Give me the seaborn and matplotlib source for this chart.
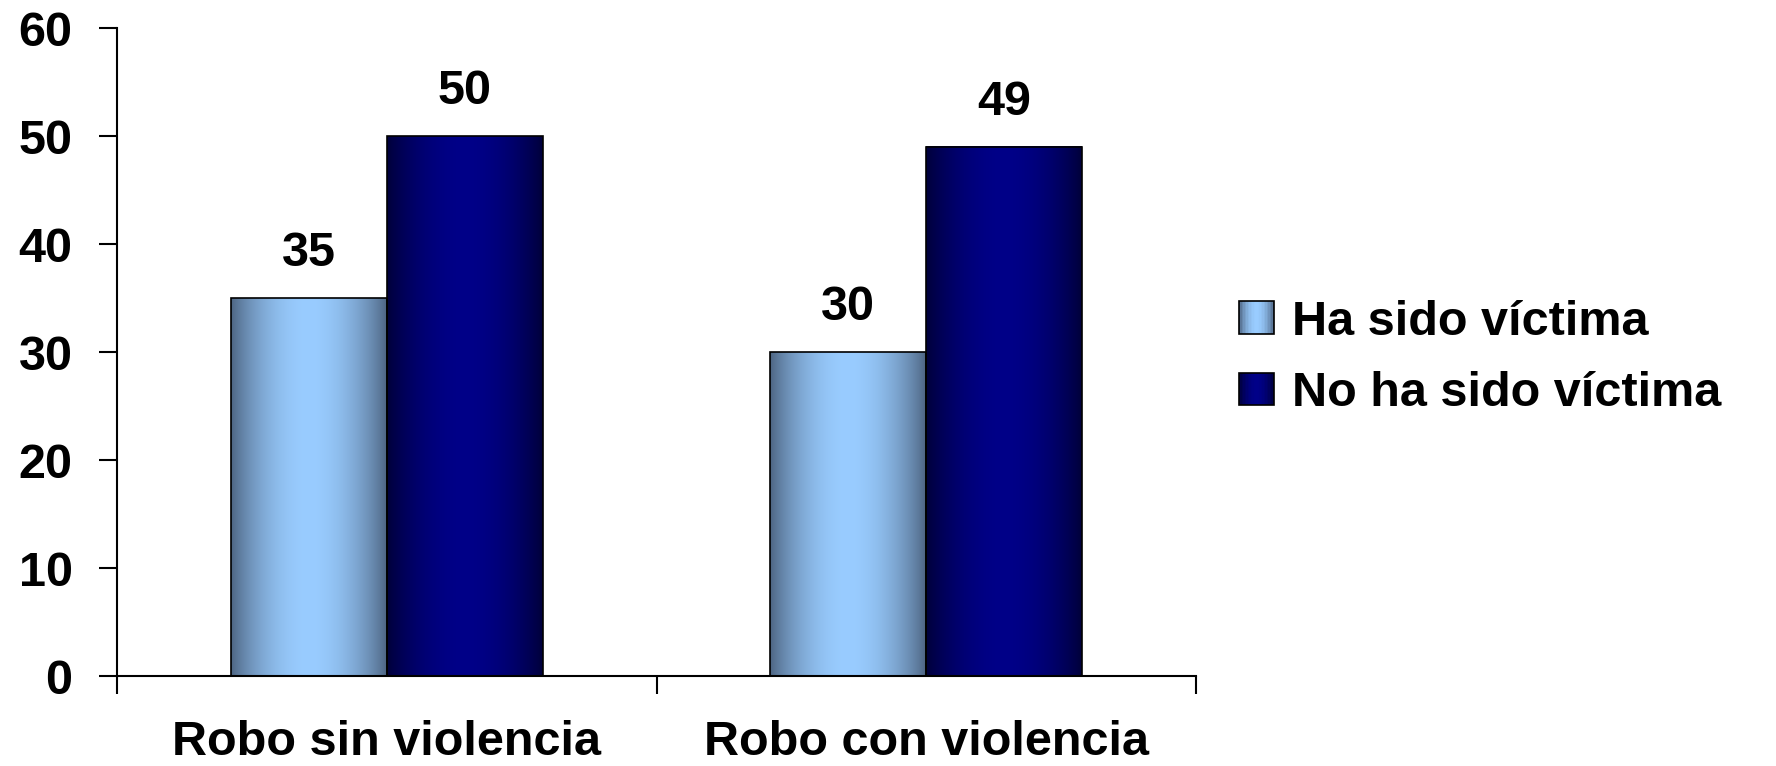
import numpy as np
import pandas as pd
import matplotlib
matplotlib.use("Agg")
import matplotlib.pyplot as plt
import matplotlib.colors as mcolors
from matplotlib.patches import Rectangle
from matplotlib.legend_handler import HandlerBase
import seaborn as sns

# Data
categories = ["Robo sin violencia", "Robo con violencia"]
series_names = ["Ha sido víctima", "No ha sido víctima"]
ha_sido = [35, 30]
no_ha_sido = [50, 49]
y_ticks = [0, 10, 20, 30, 40, 50, 60]

# gradient colours (edge, centre) for each series
grad_colors = {
    "Ha sido víctima": ("#4c6380", "#99ccff"),
    "No ha sido víctima": ("#000038", "#000088"),
}

df = pd.DataFrame({
    "categoria": categories * 2,
    "serie": [series_names[0]] * 2 + [series_names[1]] * 2,
    "valor": ha_sido + no_ha_sido,
})

sns.set_style("ticks")
plt.rcParams["font.family"] = ["Liberation Sans", "DejaVu Sans"]
plt.rcParams["font.weight"] = "bold"
for key in ["text.color", "axes.labelcolor", "xtick.color", "ytick.color"]:
    plt.rcParams[key] = "black"

FS = 35


def gradient_row(edge, centre, n=256):
    t = np.linspace(0, 1, n)
    f = np.sin(np.pi * t) ** 0.8
    e = np.array(mcolors.to_rgb(edge))
    c = np.array(mcolors.to_rgb(centre))
    return e[None, :] + (c - e)[None, :] * f[:, None]


fig = plt.figure(figsize=(17.76, 7.66), dpi=100)
ax = fig.add_axes([117 / 1776, 90 / 766, (1196 - 117) / 1776, (676 - 28) / 766])

palette = {s: grad_colors[s][1] for s in series_names}
sns.barplot(data=df, x="categoria", y="valor", hue="serie", hue_order=series_names,
            order=categories, palette=palette, width=0.578, ax=ax,
            edgecolor="black", linewidth=1.2, legend=False, saturation=1)

# paint each bar with a horizontal gradient
for container, name in zip(ax.containers, series_names):
    row = gradient_row(*grad_colors[name])
    for bar in container:
        x0, w, h = bar.get_x(), bar.get_width(), bar.get_height()
        ax.imshow(row[None, :, :], extent=[x0, x0 + w, 0, h], aspect="auto",
                  zorder=2, interpolation="bilinear")
        bar.set_facecolor("none")
        bar.set_zorder(3)
    ax.bar_label(container, fmt="%d", padding=16, fontsize=FS, fontweight="bold",
                 color="black")

ax.set_xlim(-0.5, 1.5)
ax.set_ylim(0, 60)
ax.set_yticks(y_ticks)
ax.set_xlabel("")
ax.set_ylabel("")

for side in ["top", "right"]:
    ax.spines[side].set_visible(False)
for side in ["left", "bottom"]:
    ax.spines[side].set_color("black")
    ax.spines[side].set_linewidth(1.5)

ax.tick_params(axis="y", which="major", left=True, direction="out", length=13,
               width=1.5, color="black", pad=19, labelsize=FS, labelcolor="black")
ax.tick_params(axis="x", which="major", bottom=True, length=0, pad=32,
               labelsize=FS, labelcolor="black")
ax.set_xticks([-0.5, 0.5, 1.5], minor=True)
ax.tick_params(axis="x", which="minor", bottom=True, direction="out", length=13,
               width=1.5, color="black")
ax.tick_params(axis="y", which="minor", left=False)
for lab in ax.get_xticklabels() + ax.get_yticklabels():
    lab.set_fontweight("bold")


class GradientHandler(HandlerBase):
    def __init__(self, edge, centre):
        super().__init__()
        self.row = gradient_row(edge, centre, 24)

    def create_artists(self, legend, orig_handle, xdescent, ydescent, width,
                       height, fontsize, trans):
        arts = []
        n = len(self.row)
        for i, col in enumerate(self.row):
            arts.append(Rectangle((-xdescent + width * i / n, -ydescent),
                                  width / n + 0.3, height, facecolor=col,
                                  edgecolor="none", transform=trans))
        arts.append(Rectangle((-xdescent, -ydescent), width, height,
                              facecolor="none", edgecolor="black", lw=1.2,
                              transform=trans))
        return arts


handles = [Rectangle((0, 0), 1, 1) for _ in series_names]
handler_map = {h: GradientHandler(*grad_colors[s]) for h, s in zip(handles, series_names)}
fig.legend(handles, series_names, handler_map=handler_map, loc="center left",
           bbox_to_anchor=(1239 / 1776, 1 - 358 / 766), frameon=False,
           prop={"weight": "bold", "size": FS}, handlelength=0.72,
           handleheight=0.66, handletextpad=0.38, labelspacing=0.54,
           borderpad=0, borderaxespad=0, labelcolor="black")

plt.savefig("out.png", dpi=100)
